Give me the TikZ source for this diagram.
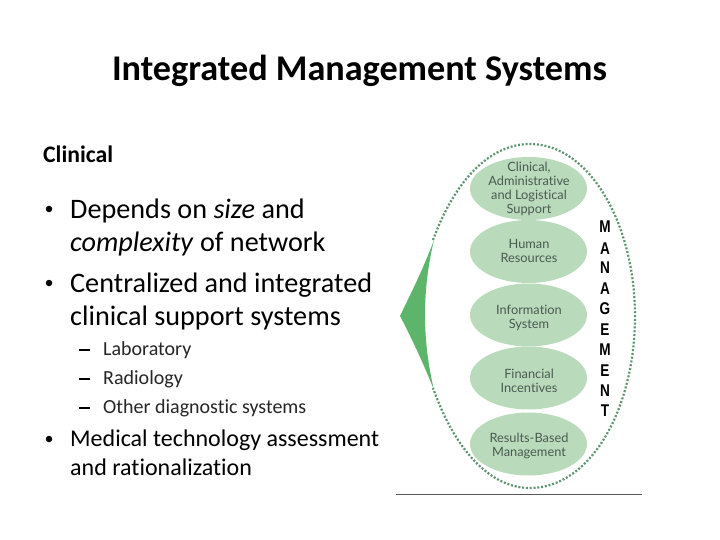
\documentclass[tikz,border=0pt]{standalone}
\usepackage{fontspec}
\usepackage{graphicx}
\setmainfont{Carlito}[Ligatures=NoCommon]
\newfontfamily\lblfont{Lato}[Ligatures=NoCommon]
\newfontfamily\mfont{Liberation Sans}
\definecolor{ovalgreen}{HTML}{B9DBBC}
\definecolor{dotgreen}{HTML}{5E9470}
\definecolor{wedgegreen}{HTML}{5DB56C}
\definecolor{lbl}{HTML}{4A5A50}
\tikzset{
  oval/.style={ellipse,fill=ovalgreen,minimum width=117pt,minimum height=63pt,inner sep=0pt},
  ovallabel/.style={inner sep=0pt,align=center,font=\lblfont\fontsize{12.8}{14}\selectfont,text=lbl},
  txt/.style={anchor=west,inner sep=0pt,align=left,text=black},
  bul/.style={txt,font=\fontsize{28.2}{33}\selectfont},
  bulmark/.style={circle,fill=black,inner sep=0pt,minimum size=6.5pt},
  sub/.style={txt,font=\fontsize{20}{29}\selectfont,text=black!85},
  subdash/.style={fill=black,inner sep=0pt,minimum width=11pt,minimum height=1.6pt},
  mgmt/.style={inner sep=0pt,font=\mfont\bfseries\fontsize{17}{17}\selectfont}
}
\usetikzlibrary{shapes.geometric}
\begin{document}
\begin{tikzpicture}[x=1pt,y=-1pt]
\useasboundingbox (0,0) rectangle (720,540);
\fill[white] (0,0) rectangle (720,540);
\node[inner sep=0pt,font=\bfseries\fontsize{36.2}{40}\selectfont] (title) at (359.5,70.5) {Integrated Management Systems};
\node[txt,font=\bfseries\fontsize{23.7}{27}\selectfont] (clin) at (43,154) {Clinical};
\node[bulmark] (b1m) at (49,209) {};
\node[bul] (b1) at (70,227) {Depends on \textit{size} and\\\textit{complexity} of network};
\node[bulmark] (b2m) at (49,283) {};
\node[bul] (b2) at (70,301) {Centralized and integrated\\clinical support systems};
\node[sub] (s) at (103,379.5) {Laboratory\\Radiology\\Other diagnostic systems};
\node[subdash] (d1) at (84,350) {};
\node[subdash] (d2) at (84,379) {};
\node[subdash] (d3) at (84,408) {};
\node[bulmark] (b3m) at (49,439) {};
\node[bul,font=\fontsize{24}{29}\selectfont] (b3) at (70,453) {Medical technology assessment\\and rationalization};
% diagram
\fill[wedgegreen] (434,240) .. controls (422,272) and (410,295) .. (400,316) .. controls (410,335) and (422,360) .. (434,390) .. controls (422,340) and (422,290) .. (434,240);
\draw[dotgreen,line width=2.2pt,dash pattern=on 2pt off 1.8pt] (433,240) .. controls (455,180) and (490,144) .. (530,144) .. controls (590,144) and (635,225) .. (635,316) .. controls (635,410) and (590,488) .. (530,488) .. controls (490,488) and (455,450) .. (433,388);
\node[oval] (o1) at (528.5,188.5) {};
\node[oval] (o2) at (528.5,251.5) {};
\node[oval] (o3) at (528.5,315) {};
\node[oval] (o4) at (528.5,378) {};
\node[oval] (o5) at (528.5,444) {};
\node[ovallabel] (l1) at (529,189) {Clinical,\\Administrative\\and Logistical\\Support};
\node[ovallabel] (l2) at (529,251) {Human\\Resources};
\node[ovallabel] (l3) at (529,318) {Information\\System};
\node[ovallabel] (l4) at (529,381) {Financial\\Incentives};
\node[ovallabel] (l5) at (529,446) {Results-Based\\Management};
\foreach \l/\y in {M/227,A/249,N/268,A/289,G/309,E/330,M/350,E/371,N/391,T/411}{
  \node[mgmt] at (605,\y) {\scalebox{.8}[1]{\l}};
}
\fill[black!65] (396,493.5) rectangle (642,494.5);
\end{tikzpicture}
\end{document}
